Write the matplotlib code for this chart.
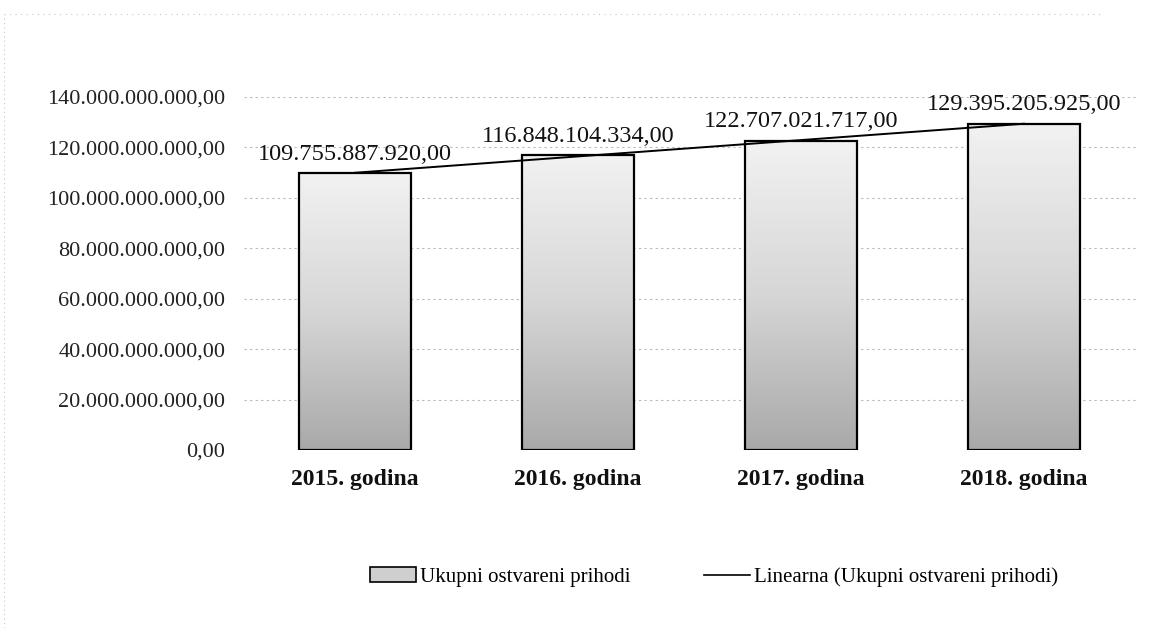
import numpy as np
import matplotlib
matplotlib.use("Agg")
import matplotlib.pyplot as plt
from matplotlib.lines import Line2D
from matplotlib.colors import LinearSegmentedColormap

categories = ["2015. godina", "2016. godina", "2017. godina", "2018. godina"]
values = [109755887920.00, 116848104334.00, 122707021717.00, 129395205925.00]
value_labels = ["109.755.887.920,00", "116.848.104.334,00", "122.707.021.717,00", "129.395.205.925,00"]
series_name = "Ukupni ostvareni prihodi"
trend_name = "Linearna (Ukupni ostvareni prihodi)"
yticks = [0, 20e9, 40e9, 60e9, 80e9, 100e9, 120e9, 140e9]

SERIF = ["Liberation Serif", "DejaVu Serif"]
plt.rcParams["font.family"] = SERIF

fig = plt.figure(figsize=(11.52, 6.28), dpi=100)
ax = fig.add_axes([243.5 / 1152, 1 - 450 / 628, 892 / 1152, (450 - 97) / 628])

x = np.arange(len(categories))
bars = ax.bar(x, values, width=0.5, facecolor="none", edgecolor="black",
              linewidth=1.6, zorder=3, label=series_name)

cmap = LinearSegmentedColormap.from_list("g", ["#f2f2f2", "#d6d6d6", "#a9a9a9"])
grad = np.linspace(0, 1, 256).reshape(-1, 1)
for b in bars:
    x0, y0 = b.get_x(), b.get_y()
    w, h = b.get_width(), b.get_height()
    im = ax.imshow(grad, cmap=cmap, aspect="auto", origin="upper",
                   extent=[x0, x0 + w, y0, y0 + h], zorder=2)
    im.set_clip_path(b)

coef = np.polyfit(x, values, 1)
trend = np.polyval(coef, x)
ax.plot(x, trend, color="black", linewidth=1.4, zorder=4, label=trend_name)

for xi, v, lab in zip(x, values, value_labels):
    ax.annotate(lab, (xi, v), xytext=(0, 6), textcoords="offset points",
                ha="center", va="bottom", fontsize=17.5, color="#111111", zorder=5)

ax.set_xlim(-0.5, 3.5)
ax.set_ylim(0, 140e9)
ax.set_yticks(yticks)
ax.set_yticklabels([f"{v:,.2f}".replace(",", "X").replace(".", ",").replace("X", ".") for v in yticks],
                   fontsize=16, color="#222222")
ax.set_xticks(x)
ax.set_xticklabels(categories, fontsize=17, fontweight="bold", color="#111111")
ax.tick_params(axis="y", length=0, pad=13)
ax.tick_params(axis="x", length=0, pad=14)
for s in ax.spines.values():
    s.set_visible(False)
ax.yaxis.grid(True, color="#b8b8b8", linestyle=(0, (2, 3)), linewidth=0.8, zorder=0)
ax.set_axisbelow(True)

handles = [plt.Rectangle((0, 0), 1, 1, facecolor="#cfcfcf", edgecolor="black", linewidth=1.2),
           Line2D([0], [0], color="black", linewidth=1.2)]
fig.legend(handles, [series_name, trend_name], loc="center", bbox_to_anchor=(0.62, 1 - 577 / 628),
           ncol=2, frameon=False, fontsize=15, handlelength=2.2, handletextpad=0.2,
           columnspacing=3.5)

# faint border of chart area
fig.add_artist(Line2D([4 / 1152, 4 / 1152], [0, 1 - 14 / 628], transform=fig.transFigure,
                      color="#c8c8c8", linestyle=(0, (1, 3)), linewidth=0.8))
fig.add_artist(Line2D([4 / 1152, 1100 / 1152], [1 - 14 / 628, 1 - 14 / 628], transform=fig.transFigure,
                      color="#c8c8c8", linestyle=(0, (1, 4)), linewidth=0.8))

fig.savefig("out.png", dpi=100)
